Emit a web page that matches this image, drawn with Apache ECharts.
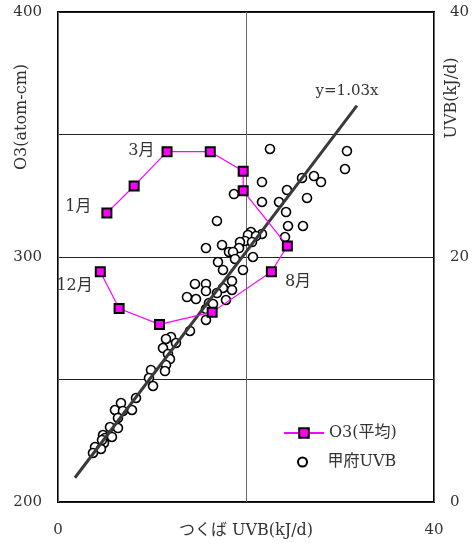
<!DOCTYPE html>
<html>
<head>
<meta charset="utf-8">
<script src="https://cdn.jsdelivr.net/npm/echarts@6/dist/echarts.min.js"></script>
<style>html,body{margin:0;padding:0;background:#fff}#c{width:475px;height:545px}</style>
</head>
<body>
<div id="c"></div>
<script>
// Monthly mean O3 vs Tsukuba UVB
const monthX = [5.2, 8.1, 11.6, 16.2, 19.7, 19.7, 24.4, 22.7, 16.4, 10.8, 6.5, 4.5];
const monthO3 = [318, 329, 343, 343, 335, 327, 304.5, 294, 277.5, 272.5, 279, 294];
const monthLabels = ['1月', '', '3月', '', '', '', '', '8月', '', '', '', '12月'];

// Kofu UVB vs Tsukuba UVB
const kofuX = [22.55, 30.74, 30.53, 27.23, 27.98, 25.96, 21.70, 24.36, 26.49, 18.72,
  21.70, 23.51, 24.26, 16.91, 24.47, 26.06, 24.15, 21.70, 20.53, 20.21,
  21.06, 19.89, 19.36, 20.64, 17.45, 15.74, 19.26, 18.19, 18.62, 18.83,
  20.74, 17.02, 17.55, 19.68, 18.51, 18.51, 17.55, 14.57, 15.74, 15.74,
  16.91, 13.72, 14.68, 17.87, 16.06, 16.49, 15.74, 15.74,
  14.04, 12.02, 11.49, 12.55, 11.17, 11.70, 11.91, 11.49, 9.89, 11.38,
  9.68, 10.11, 8.30, 6.70, 6.06, 6.91, 7.87, 6.38, 5.53, 6.38,
  4.79, 5.00, 5.74, 4.89, 3.94, 4.57, 3.72, 4.68];
const kofuY = [28.82, 28.65, 27.18, 26.61, 26.12, 26.45, 26.12, 25.47, 24.82, 25.14,
  24.49, 24.49, 23.67, 22.94, 22.53, 22.53, 21.63, 21.88, 22.04, 21.80,
  21.71, 21.31, 21.22, 21.22, 20.98, 20.73, 20.73, 20.41, 20.41, 19.84,
  20.00, 19.59, 18.94, 18.94, 18.04, 17.31, 17.47, 17.80, 17.80, 17.22,
  17.06, 16.73, 16.57, 16.49, 16.24, 16.16, 15.76, 14.86,
  13.96, 13.47, 13.31, 12.98, 12.57, 12.08, 11.67, 11.18, 10.78, 10.69,
  10.12, 9.47, 8.49, 8.08, 7.51, 7.43, 7.51, 6.86, 6.12, 6.04,
  5.47, 5.22, 5.31, 4.82, 4.49, 4.33, 4.00, 5.06];

// Regression line y = 1.03x (endpoints as drawn)
const fitX = [1.8, 31.8];
const fitY = [1.98, 32.35];

const xTickLabels = {0: '0', 40: '40'};
const leftTickLabels = {200: '200', 300: '300', 400: '400'};
const rightTickLabels = {0: '0', 20: '20', 40: '40'};

const serif = "'DejaVu Serif', 'Noto Sans CJK JP', serif";
const txt = '#333';

const labelCfg = {
  '1月': {position: 'left', distance: 10, offset: [0, -6]},
  '3月': {position: 'left', distance: 7, offset: [0, -1]},
  '8月': {position: 'right', distance: 8, offset: [0, 10]},
  '12月': {position: 'left', distance: 2, offset: [0, 14]}
};

const monthData = monthX.map((x, i) => {
  const item = {value: [x, monthO3[i]]};
  const l = monthLabels[i];
  if (l) {
    item.label = Object.assign({show: true, formatter: l, fontSize: 16, color: txt, fontFamily: serif}, labelCfg[l]);
  }
  return item;
});

const chart = echarts.init(document.getElementById('c'), null, {renderer: 'canvas'});
chart.setOption({
  animation: false,
  backgroundColor: '#fff',
  grid: {left: 58, right: 41, top: 12, bottom: 43, containLabel: false, outerBoundsMode: 'none',
    show: true, borderColor: '#000', borderWidth: 2, backgroundColor: 'transparent'},
  xAxis: {
    type: 'value', min: 0, max: 40, interval: 20,
    name: 'つくば UVB(kJ/d)', nameLocation: 'middle', nameGap: 21, nameMoveOverlap: false,
    nameTextStyle: {fontSize: 16, color: txt, fontFamily: serif},
    axisLine: {show: false}, axisTick: {show: false},
    axisLabel: {margin: 21, fontSize: 15, color: txt, fontFamily: serif, formatter: v => xTickLabels[v] || ''},
    splitLine: {show: true, lineStyle: {color: '#666', width: 1}}
  },
  yAxis: [
    {
      type: 'value', min: 200, max: 400, interval: 50, position: 'left',
      axisLine: {show: false}, axisTick: {show: false},
      axisLabel: {margin: 16, fontSize: 15, color: txt, fontFamily: serif, formatter: v => leftTickLabels[v] || ''},
      splitLine: {show: true, lineStyle: {color: '#222', width: 1}}
    },
    {
      type: 'value', min: 0, max: 40, interval: 20, position: 'right',
      axisLine: {show: false}, axisTick: {show: false},
      axisLabel: {margin: 16, fontSize: 15, color: txt, fontFamily: serif, formatter: v => rightTickLabels[v] || ''},
      splitLine: {show: false}
    }
  ],
  legend: [
    {
      orient: 'vertical', left: 283, top: 425, padding: 0, itemWidth: 40, itemHeight: 12,
      textStyle: {fontSize: 16, color: txt, fontFamily: serif},
      data: ['O3(平均)']
    },
    {
      orient: 'vertical', left: 297, top: 454, padding: 0, itemWidth: 40, itemHeight: 9,
      textStyle: {fontSize: 16, color: txt, fontFamily: serif},
      data: ['甲府UVB']
    }
  ],
  graphic: [
    {type: 'text', x: 22, y: 117, rotation: Math.PI / 2,
      style: {text: 'O3(atom-cm)', fontSize: 16, fill: txt, fontFamily: serif, align: 'center', verticalAlign: 'middle'}},
    {type: 'text', x: 452, y: 98, rotation: Math.PI / 2,
      style: {text: 'UVB(kJ/d)', fontSize: 16, fill: txt, fontFamily: serif, align: 'center', verticalAlign: 'middle'}},
    {type: 'text', x: 347, y: 91,
      style: {text: 'y=1.03x', fontSize: 15, fill: txt, fontFamily: serif, align: 'center', verticalAlign: 'middle'}}
  ],
  series: [
    {
      name: 'fit', type: 'line', xAxisIndex: 0, yAxisIndex: 1, symbol: 'none', silent: true,
      lineStyle: {color: '#3a3a3a', width: 3},
      data: fitX.map((x, i) => [x, fitY[i]]), z: 3
    },
    {
      name: '甲府UVB', type: 'scatter', xAxisIndex: 0, yAxisIndex: 1,
      symbol: 'circle', symbolSize: 9,
      itemStyle: {color: '#fff', borderColor: '#000', borderWidth: 1.6, opacity: 1},
      data: kofuX.map((x, i) => [x, kofuY[i]]), z: 2
    },
    {
      name: 'O3(平均)', type: 'line', xAxisIndex: 0, yAxisIndex: 0,
      symbol: 'rect', symbolSize: 9, showAllSymbol: true,
      lineStyle: {color: '#ff00ff', width: 1.2},
      itemStyle: {color: '#ff00ff', borderColor: '#000', borderWidth: 2},
      data: monthData, z: 4
    }
  ]
});
</script>
</body>
</html>
